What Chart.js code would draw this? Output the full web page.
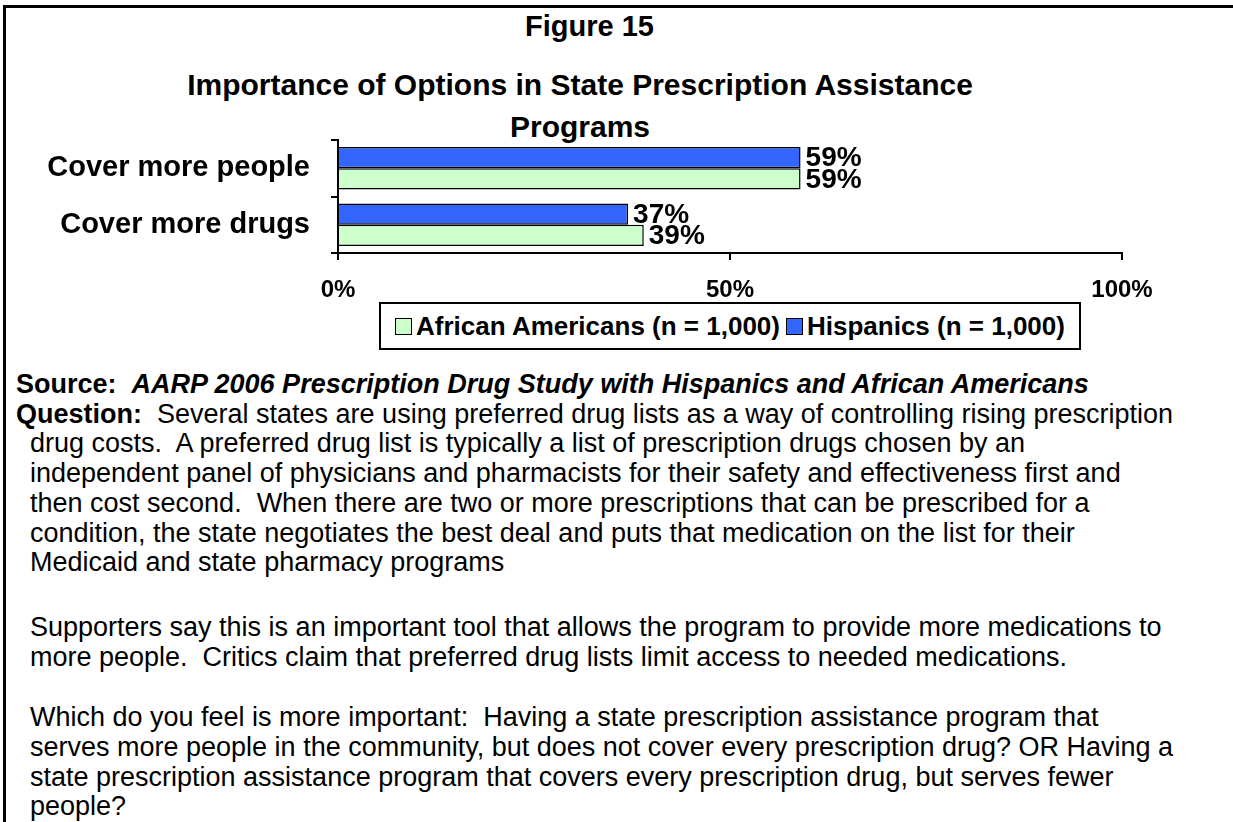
<!DOCTYPE html>
<html>
<head>
<meta charset="utf-8">
<title>Figure 15</title>
<script src="https://cdn.jsdelivr.net/npm/chart.js@4.4.0/dist/chart.umd.min.js"></script>
<style>
  html, body { margin: 0; padding: 0; background: #fff; }
  body { width: 1233px; height: 822px; position: relative; overflow: hidden;
         font-family: "Liberation Sans", Arial, sans-serif; color: #000; }
  #frame { position: absolute; left: 3px; top: 5px; width: 1240px; height: 830px;
           border-top: 3px solid #000; border-left: 3px solid #000; }
  .ttl { position: absolute; font-weight: bold; white-space: nowrap; line-height: normal; }
  #fig  { left: 525px; top: 10px; font-size: 29px; }
  #ttl1 { left: 4px; width: 1152px; text-align: center; top: 68px; font-size: 30px; }
  #ttl2 { left: 4px; width: 1152px; text-align: center; top: 110px; font-size: 30px; }
  #chartBox { position: absolute; left: 0; top: 0; }
  #legend { position: absolute; left: 379px; top: 302px; width: 698px; height: 44px;
            border: 2px solid #000; display: flex; align-items: center; justify-content: center;
            font-weight: bold; font-size: 26px; white-space: nowrap; }
  #legend .item { display: flex; align-items: center; margin: 0 3px; }
  #legend .swatch { width: 15px; height: 15px; border: 1px solid #000; margin-right: 4px; }
  #notes { position: absolute; left: 16px; top: 370px; font-size: 27px; line-height: 29.7px;
           white-space: pre; }
  #notes .ind { padding-left: 14px; }
  #notes .gap1 { height: 35px; }
  #notes .gap2 { height: 31px; }
</style>
</head>
<body>
<div id="frame"></div>
<div class="ttl" id="fig">Figure 15</div>
<div class="ttl" id="ttl1">Importance of Options in State Prescription Assistance</div>
<div class="ttl" id="ttl2">Programs</div>
<canvas id="chartBox" width="1233" height="300"></canvas>
<div id="legend"></div>
<div id="notes"><div><b>Source:</b>  <b><i>AARP 2006 Prescription Drug Study with Hispanics and African Americans</i></b></div><div><b>Question:</b>  Several states are using preferred drug lists as a way of controlling rising prescription</div><div class="ind">drug costs.  A preferred drug list is typically a list of prescription drugs chosen by an</div><div class="ind">independent panel of physicians and pharmacists for their safety and effectiveness first and</div><div class="ind">then cost second.  When there are two or more prescriptions that can be prescribed for a</div><div class="ind">condition, the state negotiates the best deal and puts that medication on the list for their</div><div class="ind">Medicaid and state pharmacy programs</div><div class="gap1"></div><div class="ind">Supporters say this is an important tool that allows the program to provide more medications to</div><div class="ind">more people.  Critics claim that preferred drug lists limit access to needed medications.</div><div class="gap2"></div><div class="ind">Which do you feel is more important:  Having a state prescription assistance program that</div><div class="ind">serves more people in the community, but does not cover every prescription drug? OR Having a</div><div class="ind">state prescription assistance program that covers every prescription drug, but serves fewer</div><div class="ind">people?</div></div>

<script>
// Share of respondents rating each option as more important (%)
const categories = ['Cover more people', 'Cover more drugs'];
const hispanics = [59, 37];
const africanAmericans = [59, 39];
const xTickValues = [0, 50, 100];

const seriesNames = {
  hispanics: 'Hispanics (n = 1,000)',
  africanAmericans: 'African Americans (n = 1,000)'
};
const seriesColors = { hispanics: '#3366FF', africanAmericans: '#CCFFCC' };

const fontFamily = '"Liberation Sans", Arial, sans-serif';

// writes "59%" etc. just past the end of every bar
const valueLabels = {
  id: 'valueLabels',
  afterDatasetsDraw(chart) {
    const ctx = chart.ctx;
    ctx.save();
    ctx.font = 'bold 28px ' + fontFamily;
    ctx.fillStyle = '#000';
    ctx.textAlign = 'left';
    ctx.textBaseline = 'middle';
    chart.data.datasets.forEach((ds, i) => {
      chart.getDatasetMeta(i).data.forEach((bar, j) => {
        ctx.fillText(ds.data[j] + '%', bar.x + 5, bar.y + 1);
      });
    });
    ctx.restore();
  }
};

const chart = new Chart(document.getElementById('chartBox'), {
  type: 'bar',
  data: {
    labels: categories,
    datasets: [
      { label: seriesNames.hispanics, data: hispanics, backgroundColor: seriesColors.hispanics },
      { label: seriesNames.africanAmericans, data: africanAmericans, backgroundColor: seriesColors.africanAmericans }
    ]
  },
  options: {
    indexAxis: 'y',
    responsive: false,
    animation: false,
    devicePixelRatio: 1,
    layout: { padding: { top: 140, right: 111, bottom: 0, left: 0 } },
    datasets: {
      bar: { categoryPercentage: 0.75, barPercentage: 1.0, borderColor: '#000', borderWidth: 1.5 }
    },
    plugins: {
      legend: { display: false },
      tooltip: { enabled: false },
      title: { display: false }
    },
    scales: {
      x: {
        min: 0,
        max: 100,
        afterFit(scale) { scale.height = 47; },
        afterBuildTicks(scale) { scale.ticks = xTickValues.map(v => ({ value: v })); },
        ticks: {
          callback: v => v + '%',
          color: '#000',
          padding: 16,
          maxRotation: 0,
          font: { family: fontFamily, weight: 'bold', size: 24 }
        },
        grid: { drawOnChartArea: false, drawTicks: true, tickLength: 7, color: '#000', lineWidth: 2 },
        border: { display: true, color: '#000', width: 2 }
      },
      y: {
        afterFit(scale) { scale.width = 338; },
        ticks: {
          color: '#000',
          padding: 21,
          font: { family: fontFamily, weight: 'bold', size: 29 }
        },
        grid: { offset: true, drawOnChartArea: false, drawTicks: true, tickLength: 7, color: '#000', lineWidth: 2 },
        border: { display: true, color: '#000', width: 2 }
      }
    }
  },
  plugins: [valueLabels]
});

// legend lists the series in reverse dataset order (African Americans first)
const legendEl = document.getElementById('legend');
chart.data.datasets.slice().reverse().forEach(ds => {
  const item = document.createElement('div');
  item.className = 'item';
  const sw = document.createElement('span');
  sw.className = 'swatch';
  sw.style.background = ds.backgroundColor;
  const txt = document.createElement('span');
  txt.textContent = ds.label;
  item.appendChild(sw);
  item.appendChild(txt);
  legendEl.appendChild(item);
});
</script>
</body>
</html>
